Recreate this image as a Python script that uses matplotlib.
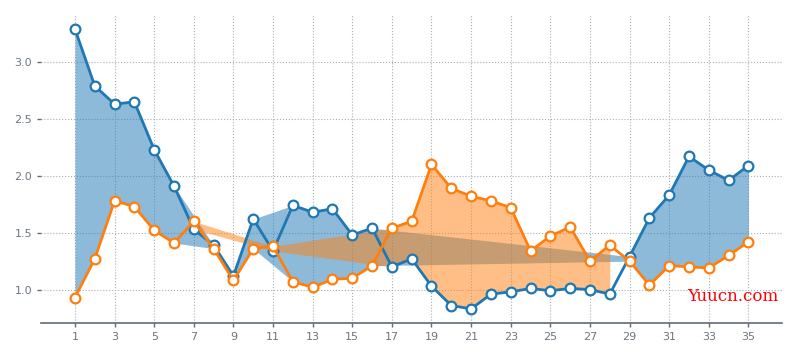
import numpy as np
import matplotlib
matplotlib.use('Agg')
import matplotlib.pyplot as plt

# 数据
x = np.arange(1, 36)
y_blue = np.array([3.29, 2.79, 2.63, 2.65, 2.23, 1.91, 1.53, 1.39, 1.12, 1.62,
                   1.34, 1.74, 1.68, 1.71, 1.48, 1.54, 1.20, 1.27, 1.03, 0.86,
                   0.83, 0.96, 0.98, 1.01, 0.99, 1.01, 1.00, 0.96, 1.29, 1.63,
                   1.83, 2.17, 2.05, 1.96, 2.09])
y_orange = np.array([0.93, 1.27, 1.78, 1.73, 1.52, 1.41, 1.60, 1.36, 1.08, 1.36,
                     1.38, 1.07, 1.02, 1.09, 1.10, 1.21, 1.54, 1.60, 2.10, 1.89,
                     1.82, 1.78, 1.72, 1.34, 1.47, 1.55, 1.25, 1.39, 1.25, 1.04,
                     1.21, 1.20, 1.19, 1.30, 1.42])
xticks = np.arange(1, 36, 2)

blue = '#1f77b4'
orange = '#ff7f0e'
grey = '#5f6b78'

fig = plt.figure(figsize=(7.94, 3.58), dpi=100)
ax = fig.add_axes([0.052, 0.098, 0.933, 0.86])

# 填充：只取满足条件的点（不插值，点之间直接相连）
mask = y_blue > y_orange
ax.fill_between(x[mask], y_blue[mask], y_orange[mask], color=blue, alpha=0.5, linewidth=0)
ax.fill_between(x[~mask], y_blue[~mask], y_orange[~mask], color=orange, alpha=0.5, linewidth=0)

ax.plot(x, y_blue, color=blue, linewidth=2, marker='o', markersize=7,
        markerfacecolor='white', markeredgewidth=1.6, zorder=3)
ax.plot(x, y_orange, color=orange, linewidth=2, marker='o', markersize=7,
        markerfacecolor='white', markeredgewidth=1.6, zorder=3)

ax.set_xticks(xticks)
ax.grid(True, linestyle=':', color='#a8b0b8', linewidth=0.8)
ax.set_axisbelow(True)
for s in ['top', 'right', 'left']:
    ax.spines[s].set_visible(False)
ax.spines['bottom'].set_color(grey)
ax.spines['bottom'].set_linewidth(1.2)
ax.tick_params(axis='both', colors=grey, labelsize=8, length=3, width=1)
ax.tick_params(axis='both', labelcolor='#6b7580')

fig.text(0.865, 0.16, 'Yuucn.com', color='red', fontsize=12, family='DejaVu Serif')

plt.savefig('out.png', dpi=100)
